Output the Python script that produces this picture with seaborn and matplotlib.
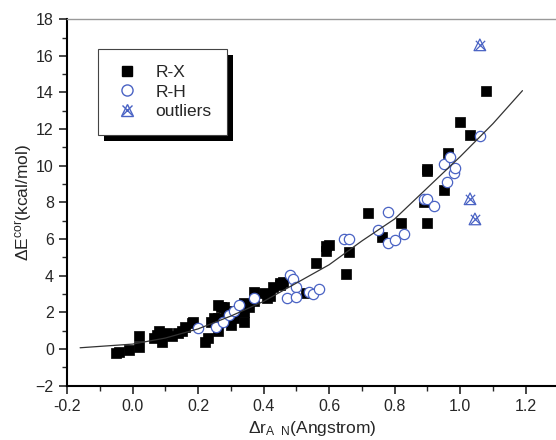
import numpy as np
import pandas as pd
import matplotlib
matplotlib.use("Agg")
import matplotlib.pyplot as plt
import seaborn as sns
from matplotlib.legend_handler import HandlerTuple
from matplotlib.ticker import MultipleLocator
from matplotlib.patches import Rectangle
from matplotlib.transforms import IdentityTransform

# R-X points (black squares)
rx_x = [-0.05, -0.04, -0.01, 0.02, 0.02, 0.065, 0.075, 0.08, 0.085, 0.09, 0.105, 0.12, 0.14, 0.15,
        0.16, 0.18, 0.185, 0.22, 0.23, 0.24, 0.25, 0.26, 0.26, 0.26, 0.27, 0.28, 0.285, 0.30,
        0.31, 0.31, 0.34, 0.34, 0.34, 0.355, 0.37, 0.37, 0.40, 0.41, 0.42, 0.43, 0.45, 0.45,
        0.46, 0.53, 0.56, 0.59, 0.59, 0.60, 0.65, 0.66, 0.72, 0.76, 0.82, 0.89, 0.90, 0.90,
        0.90, 0.95, 0.963, 1.0, 1.03, 1.08]
rx_y = [-0.2, -0.15, -0.05, 0.1, 0.7, 0.6, 0.75, 1.0, 0.65, 0.4, 0.9, 0.7, 0.9, 1.0,
        1.2, 1.4, 1.5, 0.4, 0.6, 1.5, 1.7, 1.7, 1.0, 2.4, 2.3, 2.3, 1.75, 1.3,
        2.1, 1.7, 2.5, 2.0, 1.5, 2.3, 3.1, 2.6, 3.06, 2.8, 2.9, 3.4, 3.6, 3.5,
        3.65, 3.05, 4.7, 5.6, 5.35, 5.7, 4.1, 5.3, 7.4, 6.1, 6.9, 8.0, 9.8, 6.9,
        9.7, 8.7, 10.7, 12.4, 11.7, 14.1]

# R-H points (open blue circles)
rh_x = [0.20, 0.255, 0.275, 0.295, 0.31, 0.325, 0.37, 0.47, 0.48, 0.49, 0.50, 0.50,
        0.54, 0.55, 0.57, 0.645, 0.66, 0.75, 0.78, 0.78, 0.80, 0.83, 0.89, 0.90, 0.92,
        0.95, 0.96, 0.97, 0.98, 0.985, 1.06]
rh_y = [1.15, 1.2, 1.5, 1.85, 2.1, 2.4, 2.8, 2.8, 4.05, 3.8, 3.4, 2.85,
        3.1, 3.0, 3.25, 6.0, 6.0, 6.5, 7.5, 5.8, 5.95, 6.3, 8.2, 8.2, 7.8,
        10.1, 9.1, 10.5, 9.6, 9.9, 11.6]

# outliers
out_x = [1.03, 1.045, 1.06]
out_y = [8.2, 7.1, 16.6]

# fitted curve
fit_x = [-0.16, 0.0, 0.1, 0.2, 0.3, 0.4, 0.5, 0.6, 0.7, 0.8, 0.9, 1.0, 1.1, 1.19]
fit_y = [0.07, 0.27, 0.6, 1.1, 1.8, 2.6, 3.6, 4.6, 5.9, 7.1, 8.8, 10.5, 12.3, 14.1]

blue = "#4a63c4"

sns.set_style("white")
plt.rcParams["font.family"] = ["Liberation Sans", "DejaVu Sans"]
plt.rcParams["mathtext.fontset"] = "custom"
plt.rcParams["mathtext.rm"] = "Liberation Sans"
plt.rcParams["mathtext.it"] = "Liberation Sans"

fig = plt.figure(figsize=(5.56, 4.4), dpi=100)
ax = fig.add_axes([0.1205, 0.1234, 0.884, 0.833])

sns.lineplot(x=fit_x, y=fit_y, ax=ax, color="#333333", lw=0.9, sort=False)
sns.scatterplot(x=rx_x, y=rx_y, ax=ax, marker="s", s=42, color="black", edgecolor="black", linewidth=0.5)
sns.scatterplot(x=rh_x, y=rh_y, ax=ax, marker="o", s=55, facecolor="white", edgecolor=blue, linewidth=0.9)
sns.scatterplot(x=out_x, y=out_y, ax=ax, marker="^", s=70, facecolor="none", edgecolor=blue, linewidth=0.9)
sns.scatterplot(x=out_x, y=out_y, ax=ax, marker="x", s=45, color=blue, linewidth=0.9)

ax.set_xlim(-0.2, 1.3)
ax.set_ylim(-2, 18)
ax.xaxis.set_major_locator(MultipleLocator(0.2))
ax.xaxis.set_minor_locator(MultipleLocator(0.1))
ax.yaxis.set_major_locator(MultipleLocator(2))
ax.yaxis.set_minor_locator(MultipleLocator(1))
ax.set_xticks(np.arange(-0.2, 1.21, 0.2))
ax.set_xticklabels(["-0.2", "0.0", "0.2", "0.4", "0.6", "0.8", "1.0", "1.2"])
ax.tick_params(which="major", direction="out", length=6, width=1.2, labelsize=11.5, left=True, bottom=True)
ax.tick_params(which="minor", direction="out", length=3.5, width=1.0, left=True, bottom=True)

for s in ["left", "bottom"]:
    ax.spines[s].set_linewidth(1.5)
    ax.spines[s].set_color("black")
ax.spines["top"].set_color("#999999")
ax.spines["top"].set_linewidth(1.0)
ax.spines["right"].set_visible(False)

ax.set_ylabel(r"$\Delta$E$^{cor}$(kcal/mol)", fontsize=12.5, labelpad=1)
ax.set_xlabel(r"$\Delta$r$_{A\ \ N}$(Angstrom)", fontsize=12.5, labelpad=4)

# legend with an offset shadow box
h_rx = plt.Line2D([], [], marker="s", ls="", color="black", markersize=7)
h_rh = plt.Line2D([], [], marker="o", ls="", markerfacecolor="white", markeredgecolor=blue, markersize=8)
h_t = plt.Line2D([], [], marker="^", ls="", markerfacecolor="none", markeredgecolor=blue, markersize=9)
h_x = plt.Line2D([], [], marker="x", ls="", color=blue, markersize=7)
leg = ax.legend([h_rx, h_rh, (h_t, h_x)], ["R-X", "R-H", "outliers"],
                handler_map={tuple: HandlerTuple(ndivide=1, pad=0)},
                loc="upper left", bbox_to_anchor=(0.063, 0.918), frameon=True, fancybox=False,
                fontsize=12.5, borderpad=0.9, framealpha=1,
                labelspacing=0.25, handletextpad=0.8, handlelength=1.6, borderaxespad=0)
leg.get_frame().set_edgecolor("#444444")
leg.get_frame().set_linewidth(0.8)
leg.set_zorder(6)

fig.canvas.draw()
bb = leg.get_window_extent()
shadow = Rectangle((bb.x0 + 6, bb.y0 - 6), bb.width, bb.height, transform=IdentityTransform(),
                   facecolor="black", edgecolor="none", zorder=5.5, clip_on=False)
ax.add_artist(shadow)

fig.savefig("out.png", dpi=100)
